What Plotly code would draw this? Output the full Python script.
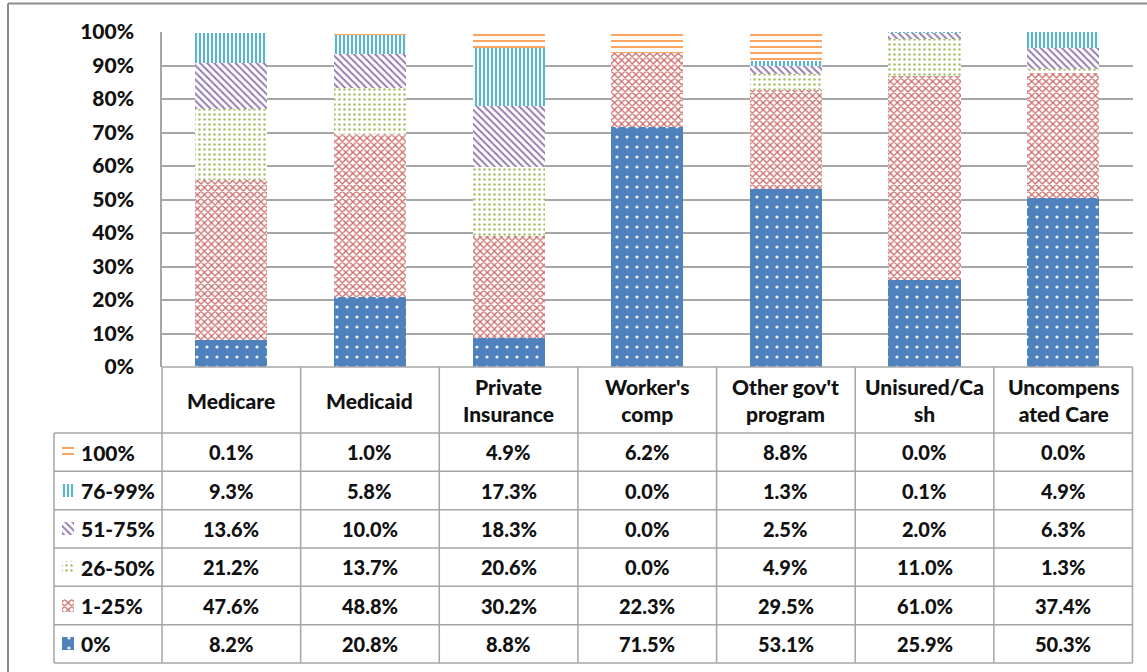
import plotly.graph_objects as go

# Payer categories (table column headers) and coverage bands
categories = ["Medicare", "Medicaid", "Private<br>Insurance", "Worker's<br>comp",
              "Other gov't<br>program", "Unisured/Ca<br>sh", "Uncompens<br>ated Care"]
bands = ["0%", "1-25%", "26-50%", "51-75%", "76-99%", "100%"]

# Share of claims per band (percent), one list per band, in category order
share_0 = [8.2, 20.8, 8.8, 71.5, 53.1, 25.9, 50.3]
share_1_25 = [47.6, 48.8, 30.2, 22.3, 29.5, 61.0, 37.4]
share_26_50 = [21.2, 13.7, 20.6, 0.0, 4.9, 11.0, 1.3]
share_51_75 = [13.6, 10.0, 18.3, 0.0, 2.5, 2.0, 6.3]
share_76_99 = [9.3, 5.8, 17.3, 0.0, 1.3, 0.1, 4.9]
share_100 = [0.1, 1.0, 4.9, 6.2, 8.8, 0.0, 0.0]

y_ticks = [0, 10, 20, 30, 40, 50, 60, 70, 80, 90, 100]

series = [share_0, share_1_25, share_26_50, share_51_75, share_76_99, share_100]

patterns = [
    dict(shape=".", fgcolor="white", bgcolor="#4F81BD", size=10, solidity=0.08, fgopacity=0.9),
    dict(shape="x", fgcolor="#C0504D", bgcolor="#FFFFFF", size=5, solidity=0.45, fgopacity=0.85),
    dict(shape=".", fgcolor="#9BBB59", bgcolor="#FFFFFF", size=5, solidity=0.2, fgopacity=0.9),
    dict(shape="\\", fgcolor="#8064A2", bgcolor="#FFFFFF", size=5, solidity=0.4, fgopacity=0.85),
    dict(shape="|", fgcolor="#4BACC6", bgcolor="#FFFFFF", size=4, solidity=0.55, fgopacity=0.9),
    dict(shape="-", fgcolor="#F79646", bgcolor="#FFFFFF", size=6, solidity=0.35, fgopacity=0.85),
]

W, H = 1147, 672


def px(x):
    return x / W


def py(y):
    return 1 - y / H


# table / plot geometry in pixels
plot_left, plot_right = 162, 1132.5
plot_top, plot_bottom = 32, 367
header_bottom = 433
table_bottom = 663
legend_left = 54
n_cols = len(categories)
col_w = (plot_right - plot_left) / n_cols
row_h = (table_bottom - header_bottom) / len(bands)

FONT = "Lato"
GRID = "#A6A6A6"
TXT = "#111111"

fig = go.Figure()

x_idx = list(range(n_cols))
for name, vals, pat in zip(bands, series, patterns):
    fig.add_trace(go.Bar(
        x=x_idx, y=vals, name=name, width=0.52,
        marker=dict(color=pat["bgcolor"], line=dict(width=0), pattern=pat),
        showlegend=False, hoverinfo="skip",
    ))

# legend key icons drawn in a small axis laid over the table's label column
legend_rows = bands[::-1]
for name, pat in zip(bands, patterns):
    fig.add_trace(go.Bar(
        x=[12], y=[name], base=[8], orientation="h", width=0.34,
        marker=dict(color=pat["bgcolor"], line=dict(width=0), pattern=pat),
        xaxis="x2", yaxis="y2", showlegend=False, hoverinfo="skip",
    ))

fig.update_layout(
    width=W, height=H,
    margin=dict(l=0, r=0, t=0, b=0, autoexpand=False),
    paper_bgcolor="white", plot_bgcolor="white",
    barmode="stack",
    xaxis=dict(domain=[px(plot_left), px(plot_right)], range=[-0.5, n_cols - 0.5],
               showticklabels=False, showgrid=False, zeroline=False, fixedrange=True,
               automargin=False),
    yaxis=dict(domain=[py(plot_bottom), py(plot_top)], range=[0, 100],
               tickvals=y_ticks, ticktext=[f"{v}%" for v in y_ticks],
               showgrid=True, gridcolor=GRID, gridwidth=1.5,
               showline=True, linecolor=GRID, linewidth=1.5,
               zeroline=False, ticks="", ticklabelstandoff=22, automargin=False,
               tickfont=dict(family=FONT, size=21, color=TXT, weight=900)),
    xaxis2=dict(domain=[px(legend_left), px(plot_left)], range=[0, plot_left - legend_left],
                visible=False, fixedrange=True, automargin=False),
    yaxis2=dict(domain=[py(table_bottom), py(header_bottom)], range=[-0.5, len(bands) - 0.5],
                categoryorder="array", categoryarray=bands, visible=False,
                anchor="x2", fixedrange=True, automargin=False),
)

shapes = []
line = dict(color=GRID, width=1.5)
# outer chart frame (top and left edges)
shapes.append(dict(type="line", xref="paper", yref="paper", x0=px(8), x1=1,
                   y0=py(3.5), y1=py(3.5), line=dict(color="#8C8C8C", width=2)))
shapes.append(dict(type="line", xref="paper", yref="paper", x0=px(8), x1=px(8),
                   y0=py(3.5), y1=0, line=dict(color="#8C8C8C", width=2)))
# horizontal table rules
shapes.append(dict(type="line", xref="paper", yref="paper", x0=px(plot_left), x1=px(plot_right),
                   y0=py(plot_bottom), y1=py(plot_bottom), line=line))
for i in range(len(bands) + 1):
    yy = header_bottom + i * row_h
    shapes.append(dict(type="line", xref="paper", yref="paper", x0=px(legend_left), x1=px(plot_right),
                       y0=py(yy), y1=py(yy), line=line))
# vertical table rules
for j in range(n_cols + 1):
    xx = plot_left + j * col_w
    shapes.append(dict(type="line", xref="paper", yref="paper", x0=px(xx), x1=px(xx),
                       y0=py(plot_bottom), y1=py(table_bottom), line=line))
shapes.append(dict(type="line", xref="paper", yref="paper", x0=px(legend_left), x1=px(legend_left),
                   y0=py(header_bottom), y1=py(table_bottom), line=line))
fig.update_layout(shapes=shapes)

annotations = []
font = dict(family=FONT, size=20, color=TXT, weight=900)
head_font = dict(family=FONT, size=21, color=TXT, weight=900)
# column headers
for j, cat in enumerate(categories):
    annotations.append(dict(
        xref="paper", yref="paper", x=px(plot_left + (j + 0.5) * col_w),
        y=py((plot_bottom + header_bottom) / 2), text=cat, showarrow=False,
        xanchor="center", yanchor="middle", align="center", font=head_font))
# band labels and values
for r, name in enumerate(legend_rows):
    vals = series[bands.index(name)]
    yc = py(header_bottom + (r + 0.5) * row_h)
    annotations.append(dict(
        xref="paper", yref="paper", x=px(79), y=yc, text=name, showarrow=False,
        xanchor="left", yanchor="middle", font=head_font))
    for j, v in enumerate(vals):
        annotations.append(dict(
            xref="paper", yref="paper", x=px(plot_left + (j + 0.5) * col_w), y=yc,
            text=f"{v:.1f}%", showarrow=False, xanchor="center", yanchor="middle", font=font))
fig.update_layout(annotations=annotations)

fig.write_html("out.html")
